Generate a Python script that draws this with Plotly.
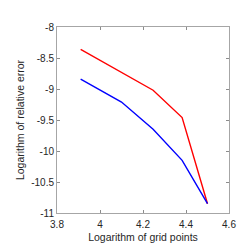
import plotly.graph_objects as go

log_grid = [3.91, 4.10, 4.247, 4.382, 4.50]
err_red = [-8.36, -8.73, -9.02, -9.46, -10.85]
err_blue = [-8.84, -9.21, -9.65, -10.15, -10.85]

x_ticks = [3.8, 4.0, 4.2, 4.4, 4.6]
x_labels = ["3.8", "4", "4.2", "4.4", "4.6"]
y_ticks = [-8, -8.5, -9, -9.5, -10, -10.5, -11]
y_labels = ["-8", "-8.5", "-9", "-9.5", "-10", "-10.5", "-11"]

fig = go.Figure()
fig.add_trace(go.Scatter(x=log_grid, y=err_red, mode="lines",
                         line=dict(color="#ff0000", width=1.4), showlegend=False))
fig.add_trace(go.Scatter(x=log_grid, y=err_blue, mode="lines",
                         line=dict(color="#0000ff", width=1.4), showlegend=False))

axcommon = dict(showgrid=False, zeroline=False, showline=True, linecolor="#a6a6a6",
                linewidth=1, mirror="ticks", ticks="inside", ticklen=3,
                tickcolor="#8c8c8c", tickwidth=1,
                tickfont=dict(family="Liberation Sans, Arial, sans-serif", size=10, color="#262626"))

fig.update_layout(
    width=245, height=245,
    margin=dict(l=43, r=24, t=19, b=32),
    paper_bgcolor="white", plot_bgcolor="white",
    xaxis=dict(range=[3.8, 4.6], tickvals=x_ticks, ticktext=x_labels, ticklabelstandoff=2,
               title=dict(text="Logarithm of grid points", standoff=4,
                          font=dict(family="Liberation Sans, Arial, sans-serif", size=10.5, color="#262626")),
               **axcommon),
    yaxis=dict(range=[-11, -8], tickvals=y_ticks, ticktext=y_labels,
               title=dict(text="Logarithm of relative error", standoff=4,
                          font=dict(family="Liberation Sans, Arial, sans-serif", size=10.5, color="#262626")),
               **axcommon),
)

fig.write_html("out.html")
